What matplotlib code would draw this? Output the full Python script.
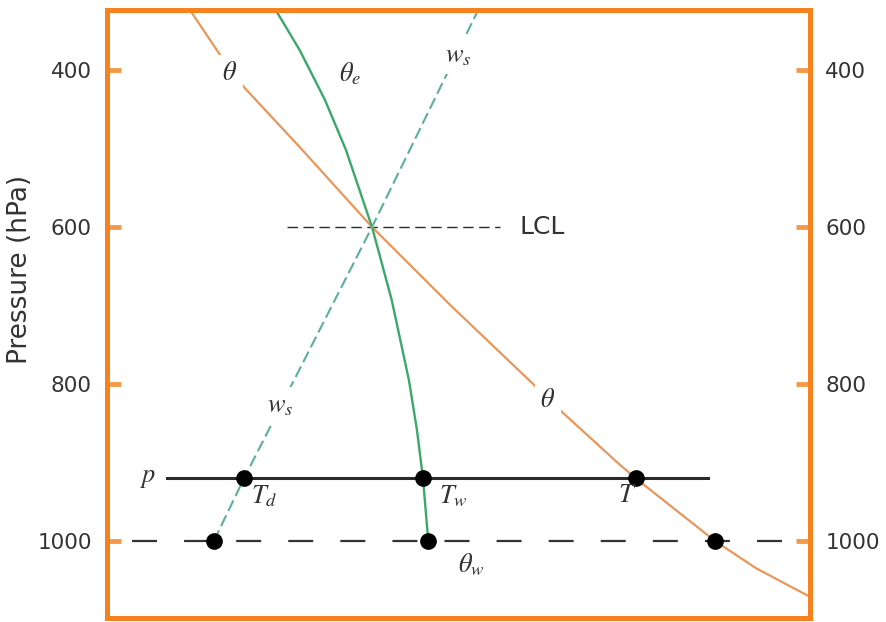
import matplotlib
matplotlib.use("Agg")
import matplotlib.pyplot as plt

plt.rcParams['font.family'] = ['DejaVu Sans']
plt.rcParams['mathtext.fontset'] = 'stix'
plt.rcParams['lines.scale_dashes'] = False

# pressure levels and reference lines (hPa)
p_ticks = [400, 600, 800, 1000]
p_lcl = 600
p_parcel = 920
p_surface = 1000

# dry adiabat (theta) through the parcel temperature
theta_x = [11.8, 16.1, 19.6, 27.6, 37.7, 48.9, 60.5, 64.9, 72.6, 75.2, 86.5, 92.4, 100.0]
theta_p = [323.6, 381, 423, 500, 600, 700, 799, 837, 900, 920, 1000, 1035, 1071]

# moist adiabat (theta_e) through the LCL
thetae_x = [24.0, 27.4, 31.0, 34.0, 37.7, 40.5, 42.95, 44.1, 44.95, 45.7]
thetae_p = [323.6, 374.5, 438, 502, 600, 693, 795, 859, 920, 1000]

# saturation mixing ratio line through the dew point
ws_x = [15.2, 19.5, 37.7, 52.8]
ws_p = [1000, 920, 600, 323.6]

# marked points: dew point, wet-bulb, temperature at p and their surface values
dots_parcel_x = [19.5, 44.95, 75.2]
dots_surface_x = [15.2, 45.7, 86.5]

orange = '#F5821F'
theta_col = '#E8975A'
green = '#3BA86A'
teal = '#5BAF9C'
ink = '#2a2a2a'

fig = plt.figure(figsize=(8.87, 6.22), dpi=100)
ax = fig.add_axes([0.1206, 0.0064, 0.7926, 0.9775])

ax.plot(theta_x, theta_p, color=theta_col, lw=1.6, zorder=2)
ax.plot(thetae_x, thetae_p, color=green, lw=1.7, zorder=2)
ax.plot(ws_x, ws_p, color=teal, lw=1.5, dashes=(8.5, 3.5), zorder=2)

# LCL level
ax.plot([25.6, 55.9], [p_lcl, p_lcl], color=ink, lw=1.0, dashes=(7.5, 4), zorder=1)
ax.text(58.7, p_lcl, 'LCL', fontsize=18, color='#333333', va='center', ha='left')

# parcel pressure and surface lines
ax.plot([8.5, 85.5], [p_parcel, p_parcel], color=ink, lw=2.2, zorder=3)
ax.plot([3.6, 96.4], [p_surface, p_surface], color='#333333', lw=1.6,
        dashes=(18, 19.5), zorder=1)

ax.plot(dots_parcel_x, [p_parcel] * 3, 'o', color='black', ms=11, zorder=4)
ax.plot(dots_surface_x, [p_surface] * 3, 'o', color='black', ms=11, zorder=4)

lab = dict(fontsize=19, color='#333333', ha='center', va='center', zorder=5)
wb = dict(facecolor='white', edgecolor='none', pad=4)
ax.text(17.5, 404, r'$\theta$', bbox=wb, **lab)
ax.text(34.6, 405, r'$\theta_e$', **lab)
ax.text(49.9, 381, r'$w_s$', bbox=wb, **lab)
ax.text(62.7, 820, r'$\theta$', bbox=wb, **lab)
ax.text(24.6, 827, r'$w_s$', bbox=wb, **lab)
ax.text(5.8, 918, r'$p$', **lab)
ax.text(22.3, 943, r'$T_d$', **lab)
ax.text(49.2, 943, r'$T_w$', **lab)
ax.text(74.0, 941, r'$T$', **lab)
ax.text(51.8, 1031, r'$\theta_w$', **lab)

ax.set_xlim(0, 100)
ax.set_ylim(1098, 323.6)
ax.set_xticks([])
ax.set_yticks(p_ticks)
ax.tick_params(axis='y', direction='in', length=10, width=3.5, color='#F29A4A',
               labelsize=15.5, labelcolor='#333333', pad=11,
               left=True, right=True, labelleft=True, labelright=True)
for s in ax.spines.values():
    s.set_color(orange)
    s.set_linewidth(3.6)

ax.set_ylabel('Pressure (hPa)', fontsize=19, color='#333333')
ax.yaxis.set_label_coords(-0.105, 0.574)

fig.savefig('out.png', dpi=100)
